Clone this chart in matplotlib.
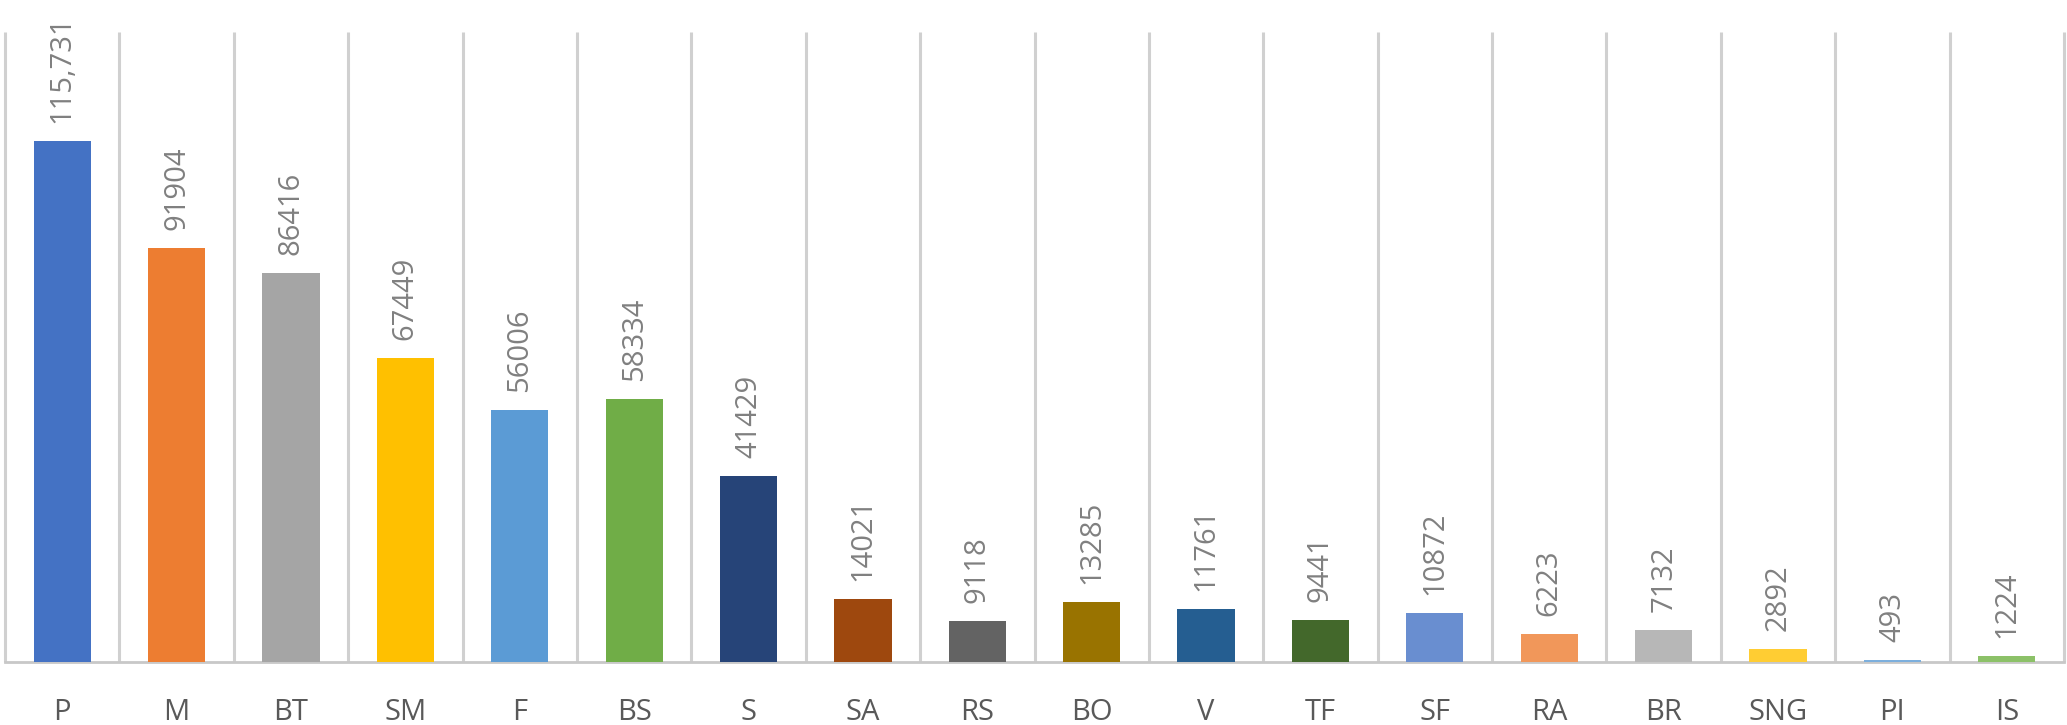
import matplotlib
matplotlib.use("Agg")
import matplotlib.pyplot as plt

categories = ["P", "M", "BT", "SM", "F", "BS", "S", "SA", "RS", "BO", "V", "TF", "SF", "RA", "BR", "SNG", "PI", "IS"]
values = [115731, 91904, 86416, 67449, 56006, 58334, 41429, 14021, 9118, 13285, 11761, 9441, 10872, 6223, 7132, 2892, 493, 1224]
value_labels = ["115,731", "91904", "86416", "67449", "56006", "58334", "41429", "14021", "9118", "13285",
                "11761", "9441", "10872", "6223", "7132", "2892", "493", "1224"]
colors = ["#4472C4", "#ED7D31", "#A5A5A5", "#FFC000", "#5B9BD5", "#70AD47",
          "#264478", "#9E480E", "#636363", "#997300", "#255E91", "#43682B",
          "#698ED0", "#F1975A", "#B7B7B7", "#FFCD33", "#7CAFDD", "#8CC168"]

plt.rcParams['font.family'] = ['Open Sans', 'DejaVu Sans']

fig = plt.figure(figsize=(20.67, 7.25), dpi=100)
ax = fig.add_axes([5/2067, 1-662/725, (2064-5)/2067, (662-32)/725])

n = len(categories)
x = list(range(n))
ax.bar(x, values, width=0.5, color=colors, zorder=3)

ax.set_xlim(-0.5, n - 0.5)
ax.set_ylim(0, 140000)

ax.vlines([i - 0.5 for i in range(n + 1)], 0, 140000, colors="#D0D0D0", linewidth=2.2, zorder=1, clip_on=False)

for xi, v, lab in zip(x, values, value_labels):
    ax.annotate(lab, (xi, v), xytext=(0, 18), textcoords="offset pixels",
                rotation=90, ha="center", va="bottom", fontsize=21, color="#808080")

for s in ["top", "right", "left"]:
    ax.spines[s].set_visible(False)
ax.spines["bottom"].set_color("#C8C8C8")
ax.spines["bottom"].set_linewidth(2)
ax.set_yticks([])
ax.set_xticks(x)
ax.set_xticklabels(categories, fontsize=21, color="#595959")
ax.tick_params(axis="x", length=0, pad=26)

fig.savefig("out.png", dpi=100)
